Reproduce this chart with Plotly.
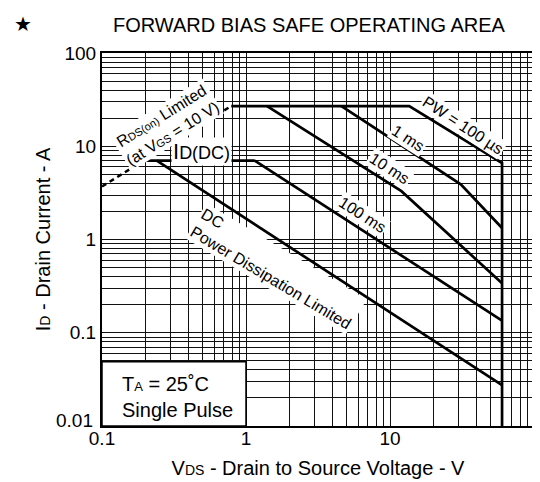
import plotly.graph_objects as go

# ---- data ----
rds_v = [0.1, 0.79]
rds_i = [3.7, 27]

pw100us_v = [0.79, 13.6, 60, 60]
pw100us_i = [27, 27, 6.6, 0.01]

ms1_v = [4.6, 31, 60]
ms1_i = [27, 3.9, 1.33]

ms10_v = [1.4, 12, 60]
ms10_i = [27, 3.3, 0.34]

ms100_v = [1.15, 60]
ms100_i = [7, 0.135]

iddc_v = [0.19, 1.15]
iddc_i = [7, 7]

dc_v = [0.24, 60]
dc_i = [7, 0.0275]

x_ticks = [0.1, 1, 10, 100]
x_tick_text = ["0.1", "1", "10", "100"]
y_ticks = [0.01, 0.1, 1, 10, 100]
y_tick_text = ["", "0.1", "1", "10", "100"]
y_bottom_label = "0.01"

FONT = "Liberation Sans, Arial, sans-serif"
L, R, T, B = 94, 12, 45, 64
W, H = 540, 482
PW_ = W - L - R
PH_ = H - T - B


def px(x):
    return (x - L) / PW_


def py(y):
    return (H - B - y) / PH_


fig = go.Figure()
line = dict(color="black", width=2.7)
fig.add_trace(go.Scatter(x=rds_v, y=rds_i, mode="lines",
                         line=dict(color="black", width=2.5, dash="5px,4px")))
for xs, ys in [(pw100us_v, pw100us_i), (ms1_v, ms1_i), (ms10_v, ms10_i),
               (ms100_v, ms100_i), (iddc_v, iddc_i), (dc_v, dc_i)]:
    fig.add_trace(go.Scatter(x=xs, y=ys, mode="lines", line=line))

ann = []


def lab(text, x, y, angle=0, size=16, align="center"):
    ann.append(dict(text=text, x=px(x), y=py(y), xref="paper", yref="paper",
                    showarrow=False, textangle=angle, bgcolor="white",
                    font=dict(family=FONT, size=size, color="black"),
                    align=align, xanchor="center", yanchor="middle", borderpad=1))


sm = "<span style='font-size:11px'>%s</span>"
lab("R" + sm % "DS(on)" + " Limited<br>(at V" + sm % "GS" + " = 10 V)", 159, 117, angle=-32, size=16)
lab("I<span style='font-size:18px'>D(DC)</span>", 194, 143, size=22)
lab("PW = 100 µs", 457, 117, angle=33, size=16)
lab("1 ms", 402, 130, angle=33, size=16)
lab("10 ms", 383, 160, angle=33, size=16)
lab("100 ms", 355, 207, angle=33, size=16)
lab("DC<br>Power Dissipation Limited", 269, 261, angle=31, size=16, align="left")

# bottom y tick label, raised slightly as in the original
ann.append(dict(text=y_bottom_label, x=px(87), y=py(412), xref="paper", yref="paper",
                showarrow=False, xanchor="right", yanchor="middle",
                font=dict(family=FONT, size=19, color="black")))

# T_A box text
ann.append(dict(text="T<span style='font-size:13px'>A</span> = 25˚C<br>Single Pulse",
                x=px(112), y=py(389), xref="paper", yref="paper", showarrow=False,
                xanchor="left", yanchor="middle", align="left",
                font=dict(family=FONT, size=20, color="black")))
# title
ann.append(dict(text="FORWARD BIAS SAFE OPERATING AREA", x=px(302), y=py(17),
                xref="paper", yref="paper", showarrow=False, xanchor="center",
                yanchor="middle", font=dict(family=FONT, size=20, color="black")))
ann.append(dict(text="★", x=px(15), y=py(16), xref="paper", yref="paper",
                showarrow=False, xanchor="center", yanchor="middle",
                font=dict(family="DejaVu Sans", size=20, color="black")))

grid = dict(showgrid=True, gridcolor="#111", gridwidth=1)
fig.update_layout(
    width=W, height=H, margin=dict(l=L, r=R, t=T, b=B),
    paper_bgcolor="white", plot_bgcolor="white", showlegend=False,
    font=dict(family=FONT, size=19, color="black"),
    annotations=ann,
    shapes=[dict(type="rect", xref="paper", yref="paper", x0=0, x1=1 / 3,
                 y0=0, y1=0.172, fillcolor="white",
                 line=dict(color="black", width=1.5), layer="above")],
    xaxis=dict(type="log", range=[-1, 2], tickvals=x_ticks, ticktext=x_tick_text,
               ticks="", showline=True, mirror=True, linecolor="black", linewidth=2,
               zeroline=False, ticklabelstandoff=-6, **grid,
               minor=dict(dtick="D1", showgrid=True, gridcolor="#111", gridwidth=1, ticks=""),
               title=dict(text="V<span style='font-size:14px'>DS</span> - Drain to Source Voltage - V",
                          font=dict(size=20), standoff=13)),
    yaxis=dict(type="log", range=[-2, 2], tickvals=y_ticks, ticktext=y_tick_text,
               ticks="", showline=True, mirror=True, linecolor="black", linewidth=2,
               zeroline=False, **grid,
               minor=dict(dtick="D1", showgrid=True, gridcolor="#111", gridwidth=1, ticks=""),
               title=dict(text="I<span style='font-size:14px'>D</span> - Drain Current - A",
                          font=dict(size=20), standoff=8)),
)
fig.write_html("out.html")
